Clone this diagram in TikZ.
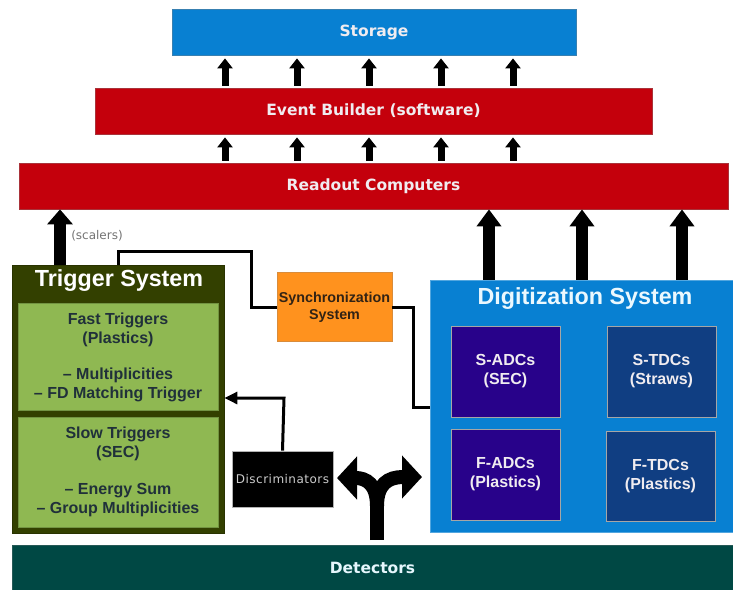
\documentclass[tikz,border=0pt]{standalone}
\usepackage{fontspec}
\setmainfont{DejaVu Sans}
\newfontfamily\arialb{Liberation Sans}
\newfontfamily\discfont{DejaVu Sans}[LetterSpace=4]
\usetikzlibrary{arrows.meta}
\definecolor{stblue}{RGB}{8,128,210}
\definecolor{ebred}{RGB}{196,0,12}
\definecolor{trigdark}{RGB}{51,64,0}
\definecolor{triggreen}{RGB}{143,184,82}
\definecolor{greentext}{RGB}{32,48,58}
\definecolor{syncorange}{RGB}{255,146,30}
\definecolor{synctext}{RGB}{50,35,20}
\definecolor{adcpurple}{RGB}{40,2,138}
\definecolor{tdcnavy}{RGB}{16,62,130}
\definecolor{detteal}{RGB}{0,72,68}
\definecolor{lighttext}{RGB}{240,236,240}
\begin{document}
\begin{tikzpicture}[x=1pt,y=-1pt,
  box/.style={rectangle,inner sep=0pt,line width=0.8pt,align=center},
  bluebox/.style={box,fill=stblue,draw=stblue!60!gray,text=lighttext,font=\fontsize{15.5}{18}\selectfont\bfseries},
  redbox/.style={box,fill=ebred,draw=ebred!60!gray,text=lighttext,font=\fontsize{15.5}{18}\selectfont\bfseries},
  trigbox/.style={box,fill=trigdark,draw=trigdark!80!black},
  greenbox/.style={box,fill=triggreen,draw=triggreen!80!black,text=greentext,font=\arialb\fontsize{16}{19}\selectfont\bfseries},
  syncbox/.style={box,fill=syncorange,draw=syncorange!70!gray,text=synctext,font=\arialb\fontsize{14.3}{17}\selectfont\bfseries},
  digbox/.style={box,fill=stblue,draw=stblue!70!white},
  adcbox/.style={box,fill=adcpurple,draw=gray!70,text=lighttext,font=\arialb\fontsize{16}{19}\selectfont\bfseries},
  tdcbox/.style={box,fill=tdcnavy,draw=gray!70,text=lighttext,font=\arialb\fontsize{16}{19}\selectfont\bfseries},
  discbox/.style={box,fill=black,draw=gray!60,text=gray!40,font=\discfont\fontsize{12}{14}\selectfont},
  detbox/.style={box,fill=detteal,draw=detteal!70!gray,text=cyan!10!white,font=\fontsize{15.5}{18}\selectfont\bfseries},
  titletext/.style={text=white,font=\arialb\fontsize{23.3}{26}\selectfont\bfseries},
  smallarr/.style={line width=7pt,-{Triangle[length=10pt,width=15pt]},shorten <=2pt,shorten >=3pt},
  bigarr/.style={line width=12pt,-{Triangle[length=15pt,width=25pt]}},
  wire/.style={line width=3pt,line join=miter},
  wirearr/.style={wire,-{Triangle[length=13pt,width=12pt]}},
  forkarr/.style={line width=14pt,-{Triangle[length=20pt,width=42pt]}}
]
\useasboundingbox (0,0) rectangle (733,589);

% top stack
\node[bluebox,minimum width=404pt,minimum height=46pt] (storage) at (374,32) {Storage};
\node[redbox,minimum width=557pt,minimum height=46pt] (eb) at (373.5,111) {Event Builder (software)};
\node[redbox,minimum width=709pt,minimum height=46pt] (rc) at (373.5,186) {Readout Computers};

\foreach \i/\x in {1/225,2/297,3/369,4/441,5/513}{
  \coordinate (c\i) at (\x,0);
  \draw[smallarr] (eb.north -| c\i) -- (storage.south -| c\i);
  \draw[smallarr] (rc.north -| c\i) -- (eb.south -| c\i);
}

% trigger system
\node[trigbox,minimum width=212pt,minimum height=268pt] (trig) at (118,399) {};
\node[titletext] (trigtitle) at (119,281) {Trigger System};
\node[greenbox,minimum width=200pt,minimum height=107pt] (fast) at (118,356.5)
  {\\[-6pt]Fast Triggers\\(Plastics)\\[17pt]– Multiplicities\\– FD Matching Trigger};
\node[greenbox,minimum width=200pt,minimum height=110pt] (slow) at (118,472)
  {Slow Triggers\\(SEC)\\[18pt]– Energy Sum\\– Group Multiplicities};

% synchronization
\node[syncbox,minimum width=115pt,minimum height=69pt] (sync) at (334.5,307) {Synchronization\\System};

% digitization system
\node[digbox,minimum width=304pt,minimum height=252pt] (dig) at (582,406) {};
\node[titletext,text=white!92!cyan] (digtitle) at (585,299) {Digitization System};
\node[adcbox,minimum width=109pt,minimum height=91pt] (sadc) at (505.5,371.5) {S-ADCs\\(SEC)};
\node[adcbox,minimum width=109pt,minimum height=91pt] (fadc) at (505.5,474.5) {F-ADCs\\(Plastics)};
\node[tdcbox,minimum width=109pt,minimum height=91pt] (stdc) at (661.5,371.5) {S-TDCs\\(Straws)};
\node[tdcbox,minimum width=109pt,minimum height=90pt] (ftdc) at (660.5,476) {F-TDCs\\(Plastics)};

% discriminators and detectors
\node[discbox,minimum width=101pt,minimum height=56pt] (disc) at (282.5,479) {Discriminators};
\node[detbox,minimum width=721pt,minimum height=46pt] (det) at (372.5,568) {Detectors};

% scalers arrow
\coordinate (s1) at (60,0);
\draw[bigarr] (trig.north -| s1) -- (rc.south -| s1);
\node[text=gray!90!black,font=\fontsize{12}{14}\selectfont] (scal) at (97,236) {(scalers)};

% digitization arrows
\foreach \i/\x in {1/489,2/582,3/682}{
  \coordinate (d\i) at (\x,0);
  \draw[bigarr,-{Triangle[length=17pt,width=24pt]}] (dig.north -| d\i) -- (rc.south -| d\i);
}

% synchronization wires
\coordinate (k1) at (118,251);
\coordinate (k2) at (251,251);
\draw[wire] (trig.north -| k1) -- (k1) -- (k2) |- (sync.west);
\coordinate (k3) at (413,407);
\draw[wire] (sync.east) -| (k3) -- (k3 -| dig.west);

% discriminator to trigger
\coordinate (k4) at (284,398);
\draw[wirearr] (disc.north) -- (k4) -- (k4 -| trig.east);

% fork arrow from detectors
\coordinate (fb) at (377,540);
\coordinate (fk) at (377,503);
\coordinate (fl) at (337,478);
\coordinate (fr) at (422,477);
\draw[line width=14pt] (fb) -- (fk);
\draw[forkarr] (377,506) .. controls (377,484) and (366,478) .. (fl);
\draw[forkarr] (377,506) .. controls (377,484) and (388,477) .. (fr);
\end{tikzpicture}
\end{document}
